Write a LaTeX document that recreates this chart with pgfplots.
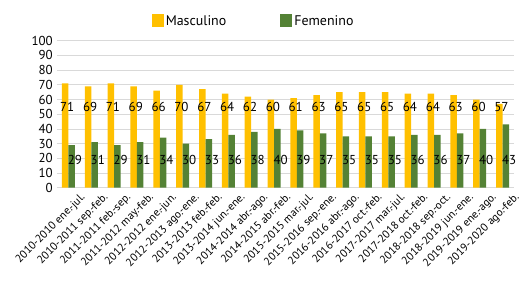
\documentclass[border=0pt]{standalone}
\usepackage{pgfplots}
\pgfplotsset{compat=1.18}
\usepackage{fontspec}
\setmainfont{PT Sans}
\definecolor{masc}{HTML}{FFC000}
\definecolor{fem}{HTML}{548235}
\definecolor{gridc}{HTML}{D9D9D9}
\begin{document}
\begin{tikzpicture}
\begin{axis}[
  scale only axis,
  width=457bp, height=147bp,
  ybar, bar width=6.5bp,
  xmin=-0.5, xmax=19.5,
  ymin=0, ymax=100,
  ytick={0,10,...,100},
  xtick={0,...,19},
  xticklabels={2010-2010 ene.-jul.,2010-2011 sep.-feb.,2011-2011 feb.-sep.,2011-2012 may.-feb.,2012-2012 ene.-jun.,2012-2013 ago.-ene.,2013-2013 feb.-feb.,2013-2014 jun.-ene.,2014-2014 abr.-ago.,2014-2015 abr.-feb.,2015-2015 mar.-jul.,2015-2016 sep.-ene.,2016-2016 abr.-ago.,2016-2017 oct.-feb.,2017-2017 mar.-jul.,2017-2018 oct.-feb.,2018-2018 sep.-oct.,2018-2019 jun.-ene.,2019-2019 ene.-ago.,2019-2020 ago.-feb.},
  xticklabel style={rotate=45, anchor=north east, font=\fontsize{11.2}{12}\selectfont, inner sep=1bp, xshift=6bp, yshift=-10bp},
  yticklabel style={font=\fontsize{13}{14}\selectfont, inner sep=1bp, xshift=-3bp},
  /pgf/number format/assume math mode=true,
  major tick length=0pt,
  ymajorgrids, grid style={gridc, line width=0.7bp},
  axis lines*=left,
  x axis line style={draw=gridc, line width=0.8bp, -},
  y axis line style={draw=none},
  ytick style={draw=none}, xtick style={draw=none},
  legend style={at={(0.207,1.0)}, anchor=south west, yshift=12bp, draw=none, fill=none, inner sep=0pt, legend columns=2,
    font=\fontsize{14}{15}\selectfont,
    nodes={inner sep=2bp},
    /tikz/every even column/.append style={column sep=52bp}},
  legend image code/.code={\fill[#1] (0bp,-6.5bp) rectangle (12bp,6.5bp);},
  nodes near coords align={center},
]
\addplot[fill=masc, draw=none, bar shift=-3.25bp] coordinates {(0,71)(1,69)(2,71)(3,69)(4,66)(5,70)(6,67)(7,64)(8,62)(9,60)(10,61)(11,63)(12,65)(13,65)(14,65)(15,64)(16,64)(17,63)(18,60)(19,57)};
\addlegendentry{Masculino}
\addplot[fill=fem, draw=none, bar shift=3.25bp] coordinates {(0,29)(1,31)(2,29)(3,31)(4,34)(5,30)(6,33)(7,36)(8,38)(9,40)(10,39)(11,37)(12,35)(13,35)(14,35)(15,36)(16,36)(17,37)(18,40)(19,43)};
\addlegendentry{Femenino}
\addplot[draw=none, fill=none, bar shift=-1.2bp, forget plot, nodes near coords, point meta=explicit symbolic,
  every node near coord/.append style={font=\fontsize{13}{14}\selectfont, text=black, inner sep=0pt}]
  coordinates {(0,55)[71](1,55)[69](2,55)[71](3,55)[69](4,55)[66](5,55)[70](6,55)[67](7,55)[64](8,55)[62](9,55)[60](10,55)[61](11,55)[63](12,55)[65](13,55)[65](14,55)[65](15,55)[64](16,55)[64](17,55)[63](18,55)[60](19,55)[57]};
\addplot[draw=none, fill=none, bar shift=6.5bp, forget plot, nodes near coords, point meta=explicit symbolic,
  every node near coord/.append style={font=\fontsize{13}{14}\selectfont, text=black, inner sep=0pt}]
  coordinates {(0,19)[29](1,19)[31](2,19)[29](3,19)[31](4,19)[34](5,19)[30](6,19)[33](7,19)[36](8,19)[38](9,19)[40](10,19)[39](11,19)[37](12,19)[35](13,19)[35](14,19)[35](15,19)[36](16,19)[36](17,19)[37](18,19)[40](19,19)[43]};
\end{axis}
\pgfresetboundingbox
\path ([shift={(-57bp,-107.3bp)}]current axis.south west) rectangle ([shift={(10bp,40.7bp)}]current axis.north east);
\end{tikzpicture}
\end{document}
